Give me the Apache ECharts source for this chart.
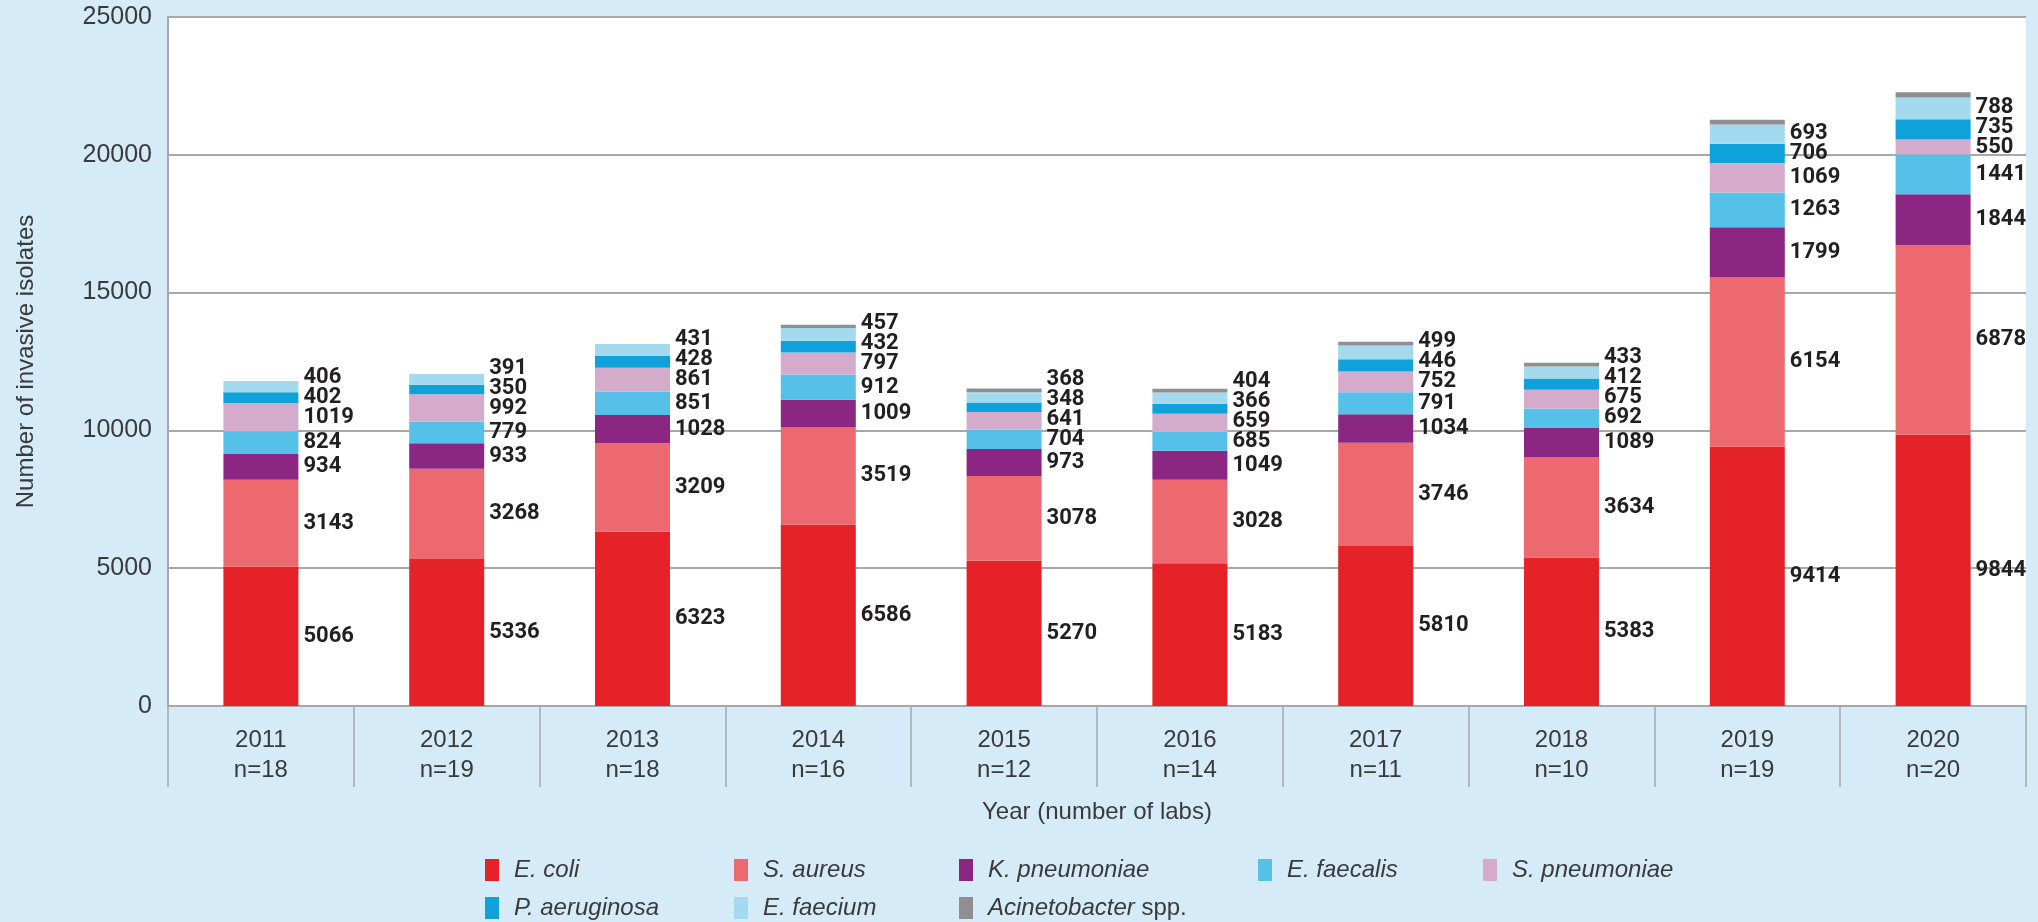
<!DOCTYPE html>
<html>
<head>
<meta charset="utf-8">
<script src="https://cdn.jsdelivr.net/npm/echarts@6/dist/echarts.min.js"></script>
<style>
  html, body { margin: 0; padding: 0; background: #d5ebf8; }
  #chart { width: 2038px; height: 922px; }
</style>
</head>
<body>
<div id="chart"></div>
<script>
// years and number of labs
const years = ['2011', '2012', '2013', '2014', '2015', '2016', '2017', '2018', '2019', '2020'];
const labs = ['n=18', 'n=19', 'n=18', 'n=16', 'n=12', 'n=14', 'n=11', 'n=10', 'n=19', 'n=20'];

// isolates per organism (bottom to top of the stack)
const eColi = [5066, 5336, 6323, 6586, 5270, 5183, 5810, 5383, 9414, 9844];
const sAureus = [3143, 3268, 3209, 3519, 3078, 3028, 3746, 3634, 6154, 6878];
const kPneumoniae = [934, 933, 1028, 1009, 973, 1049, 1034, 1089, 1799, 1844];
const eFaecalis = [824, 779, 851, 912, 704, 685, 791, 692, 1263, 1441];
const sPneumoniae = [1019, 992, 861, 797, 641, 659, 752, 675, 1069, 550];
const pAeruginosa = [402, 350, 428, 432, 348, 366, 446, 412, 706, 735];
const eFaecium = [406, 391, 431, 457, 368, 404, 499, 433, 693, 788];
// not labelled in the original
const acinetobacter = [0, 0, 0, 120, 140, 140, 140, 140, 170, 190];

const yTicks = [0, 5000, 10000, 15000, 20000, 25000];

const FONT = '"Liberation Sans", Arial, sans-serif';

const organisms = [
  { name: 'E. coli', data: eColi, color: '#e52228' },
  { name: 'S. aureus', data: sAureus, color: '#ec6a6f' },
  { name: 'K. pneumoniae', data: kPneumoniae, color: '#8b2683' },
  { name: 'E. faecalis', data: eFaecalis, color: '#55c1e8' },
  { name: 'S. pneumoniae', data: sPneumoniae, color: '#d5abcb' },
  { name: 'P. aeruginosa', data: pAeruginosa, color: '#0ea1da' },
  { name: 'E. faecium', data: eFaecium, color: '#a4daef' },
  { name: 'Acinetobacter spp.', data: acinetobacter, color: '#8f8f91', noLabel: true }
];

// legend placement, two rows like the original
const legendSpots = [
  [485, 858], [734, 858], [959, 858], [1258, 858], [1483, 858],
  [485, 896], [734, 896], [959, 896]
];

const chart = echarts.init(document.getElementById('chart'));

const option = {
  backgroundColor: '#d5ebf8',
  animation: false,
  textStyle: { fontFamily: FONT },
  grid: {
    left: 168, right: 12, top: 17, bottom: 216,
    show: true, backgroundColor: '#ffffff', borderWidth: 0
  },
  legend: organisms.map((o, i) => ({
    data: [o.name],
    left: legendSpots[i][0],
    top: legendSpots[i][1],
    itemWidth: 14,
    itemHeight: 22,
    icon: 'rect',
    padding: 0,
    formatter: o.name === 'Acinetobacter spp.' ? '{i|Acinetobacter} spp.' : '{i|' + o.name + '}',
    textStyle: {
      fontFamily: FONT, fontSize: 24, color: '#3a3a3a',
      padding: [0, 0, 0, 10],
      rich: { i: { fontFamily: FONT, fontSize: 24, fontStyle: 'italic', color: '#3a3a3a' } }
    }
  })),
  xAxis: {
    type: 'category',
    data: years,
    name: 'Year (number of labs)',
    nameLocation: 'middle',
    nameGap: 94,
    nameTextStyle: { fontFamily: FONT, fontSize: 24, color: '#3a3a3a' },
    axisLine: { lineStyle: { color: '#a8a8a8', width: 2 } },
    axisTick: { show: true, interval: 0, length: 81, lineStyle: { color: '#a8a8a8', width: 1.5 } },
    axisLabel: {
      interval: 0,
      margin: 19,
      fontFamily: FONT, fontSize: 24, color: '#3a3a3a', lineHeight: 30,
      formatter: (v, i) => v + '\n' + labs[i]
    }
  },
  yAxis: {
    type: 'value',
    min: yTicks[0],
    max: yTicks[yTicks.length - 1],
    interval: yTicks[1] - yTicks[0],
    name: 'Number of invasive isolates',
    nameLocation: 'middle',
    nameGap: 130,
    nameTextStyle: { fontFamily: FONT, fontSize: 24, color: '#3a3a3a' },
    axisLine: { show: true, lineStyle: { color: '#a8a8a8', width: 2 } },
    axisTick: { show: false },
    axisLabel: {
      margin: 16, fontFamily: FONT, fontSize: 25, color: '#3a3a3a',
      formatter: v => String(v)
    },
    splitLine: { lineStyle: { color: '#a8a8a8', width: 2 } }
  },
  series: organisms.map(o => ({
    name: o.name,
    type: 'bar',
    stack: 'total',
    barWidth: 75,
    itemStyle: { color: o.color },
    data: o.data.slice(),
    label: {
      show: !o.noLabel,
      position: 'right',
      distance: 5,
      fontFamily: 'Roboto, ' + FONT,
      fontWeight: 'bold',
      fontSize: 22,
      color: '#231f20'
    }
  }))
};

chart.setOption(option);

// spread the labels of each stack upward so they do not collide
function spreadLabels() {
  const gap = 20;
  const labelled = organisms.filter(o => !o.noLabel);
  const offsets = labelled.map(() => years.map(() => 0));
  years.forEach((y, j) => {
    let cum = 0;
    let prev = Infinity;
    labelled.forEach((o, i) => {
      const v = o.data[j];
      const mid = chart.convertToPixel({ yAxisIndex: 0 }, cum + v / 2);
      cum += v;
      const pos = Math.min(mid, prev - gap);
      offsets[i][j] = pos - mid;
      prev = pos;
    });
  });
  chart.setOption({
    series: labelled.map((o, i) => ({
      data: o.data.map((v, j) => ({ value: v, label: { offset: [0, offsets[i][j]] } }))
    }))
  });
}
spreadLabels();
</script>
</body>
</html>
